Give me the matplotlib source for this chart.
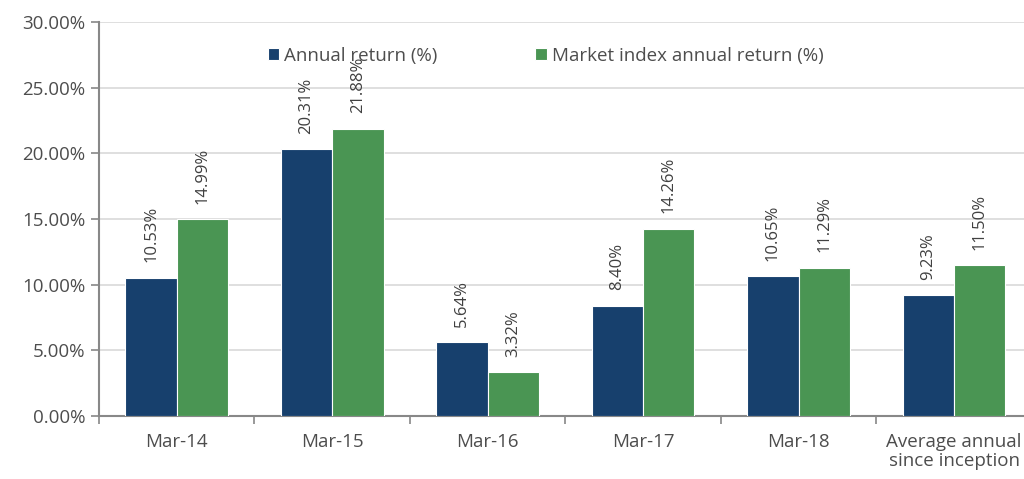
import numpy as np
import matplotlib.pyplot as plt
from matplotlib.ticker import FuncFormatter, FixedLocator

categories = ["Mar-14", "Mar-15", "Mar-16", "Mar-17", "Mar-18", "Average annual\nsince inception"]
annual_return = [10.53, 20.31, 5.64, 8.40, 10.65, 9.23]
market_return = [14.99, 21.88, 3.32, 14.26, 11.29, 11.50]

plt.rcParams['font.family'] = ['Open Sans', 'DejaVu Sans']
text_color = "#4d4d4d"
blue = "#17406D"
green = "#4A9553"

fig = plt.figure(figsize=(10.24, 4.79), dpi=100)
ax = fig.add_axes([0.0967, 0.1315, 0.9033, 0.8225])

x = np.arange(len(categories))
w = 0.33
ax.bar(x - w / 2, annual_return, w, color=blue, edgecolor="white", linewidth=0.8,
       label="Annual return (%)", zorder=3)
ax.bar(x + w / 2, market_return, w, color=green, edgecolor="white", linewidth=0.8,
       label="Market index annual return (%)", zorder=3)

for xi, v in zip(x, annual_return):
    ax.annotate(f"{v:.2f}%", (xi - w / 2, v), xytext=(0, 11), textcoords="offset points",
                rotation=90, ha="center", va="bottom", fontsize=12, color="#404040")
for xi, v in zip(x, market_return):
    ax.annotate(f"{v:.2f}%", (xi + w / 2, v), xytext=(0, 11), textcoords="offset points",
                rotation=90, ha="center", va="bottom", fontsize=12, color="#404040")

ax.set_xlim(-0.5, 5.45)
ax.set_ylim(0, 30)
ax.set_yticks(np.arange(0, 31, 5))
ax.yaxis.set_major_formatter(FuncFormatter(lambda v, p: f"{v:.2f}%"))
ax.set_xticks(x)
ax.set_xticklabels(categories, linespacing=1.1)
ax.xaxis.set_minor_locator(FixedLocator(np.arange(-0.5, 5.4, 1)))
ax.tick_params(axis="x", which="major", length=0, pad=12, labelsize=13.5, labelcolor=text_color)
ax.tick_params(axis="x", which="minor", length=6, color="#888888", width=1.2, direction="out")
ax.tick_params(axis="y", length=6, color="#888888", width=1.2, labelsize=13.5, labelcolor=text_color, pad=4)

ax.grid(axis="y", color="#d9d9d9", linewidth=1.2, zorder=0)
for s in ["top", "right"]:
    ax.spines[s].set_visible(False)
for s in ["left", "bottom"]:
    ax.spines[s].set_color("#888888")
    ax.spines[s].set_linewidth(1.5)

leg = fig.legend(loc="center", bbox_to_anchor=(0.533, 0.883), ncol=2, frameon=False,
                 fontsize=13.5, handlelength=0.6, handleheight=0.6, handletextpad=0.3,
                 columnspacing=5.2, labelcolor=text_color)

fig.savefig("out.png", dpi=100)
